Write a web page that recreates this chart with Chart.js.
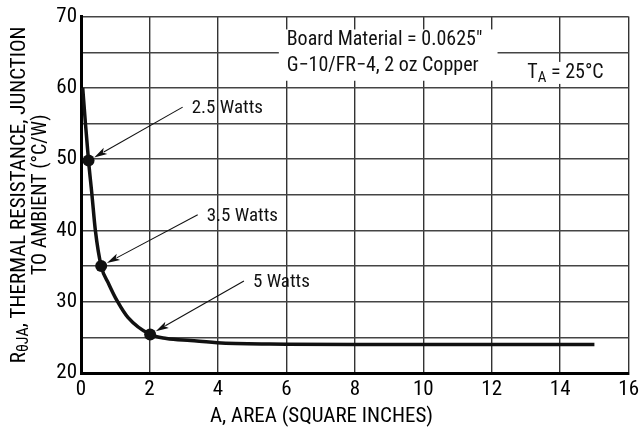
<!DOCTYPE html>
<html><head><meta charset="utf-8">
<script src="https://cdn.jsdelivr.net/npm/chart.js@4.4.1/dist/chart.umd.min.js"></script>
<style>html,body{margin:0;padding:0;background:#fff;} #wrap{width:643px;height:427px;position:relative;}</style>
</head><body><div id="wrap"><canvas id="c" width="643" height="427"></canvas></div>
<script>
// ---- data ----
const curveArea = [0.05, 0.13, 0.22, 0.32, 0.42, 0.59, 0.81, 1.07, 1.37, 2.02, 2.5, 3.2, 4.1, 6, 8, 10, 12, 15];
const curveRth  = [60, 55, 49.8, 45, 40, 35, 32.5, 30, 27.8, 25.4, 24.85, 24.55, 24.2, 24.05, 24, 24, 24, 24];
const markerArea = [0.22, 0.59, 2.02];
const markerRth  = [49.8, 35, 25.4];
const markerLabels = ['2.5 Watts', '3.5 Watts', '5 Watts'];
const xTickValues = [0, 2, 4, 6, 8, 10, 12, 14, 16];
const yTickValues = [20, 30, 40, 50, 60, 70];
const xTitle = 'A, AREA (SQUARE INCHES)';
const yTitleParts = ['R', 'θJA', ', THERMAL RESISTANCE, JUNCTION'];
const yTitleLine2 = 'TO AMBIENT (°C/W)';
const noteLines = ['Board Material = 0.0625″', 'G−10/FR−4, 2 oz Copper'];
const tempParts = ['T', 'A', ' = 25°C'];

// annotation anchors (data space) for label callouts
const calloutAnchors = [{x: 2.97, y: 57.3}, {x: 3.41, y: 42.2}, {x: 4.76, y: 32.9}];
const noteBox = {x0: 5.78, x1: 12.17, y0: 68.2, y1: 61.0, tx: 6.01, ty: [66.7, 63.1]};
const tempAnchor = {x: 13.04, y: 62.1};

const FONT = '"Roboto Condensed", "Liberation Sans", Arial, sans-serif';
const INK = '#000';

function arrow(ctx, x0, y0, x1, y1) {
  const ang = Math.atan2(y1 - y0, x1 - x0);
  const L = 13, W = 3.6;
  ctx.beginPath();
  ctx.moveTo(x0, y0);
  ctx.lineTo(x1 - Math.cos(ang) * (L - 2), y1 - Math.sin(ang) * (L - 2));
  ctx.lineWidth = 1.1;
  ctx.strokeStyle = '#111';
  ctx.stroke();
  ctx.beginPath();
  ctx.moveTo(x1, y1);
  ctx.lineTo(x1 - Math.cos(ang) * L - Math.sin(ang) * W, y1 - Math.sin(ang) * L + Math.cos(ang) * W);
  ctx.lineTo(x1 - Math.cos(ang) * (L - 3), y1 - Math.sin(ang) * (L - 3));
  ctx.lineTo(x1 - Math.cos(ang) * L + Math.sin(ang) * W, y1 - Math.sin(ang) * L - Math.cos(ang) * W);
  ctx.closePath();
  ctx.fillStyle = '#111';
  ctx.fill();
}

const annot = {
  id: 'annot',
  beforeDatasetsDraw(chart) {
    const {ctx, scales: {x, y}} = chart;
    ctx.save();
    ctx.fillStyle = '#fff';
    const bx0 = x.getPixelForValue(noteBox.x0), bx1 = x.getPixelForValue(noteBox.x1);
    const by0 = y.getPixelForValue(noteBox.y0), by1 = y.getPixelForValue(noteBox.y1);
    ctx.fillRect(bx0, by0, bx1 - bx0, by1 - by0);
    const tx = x.getPixelForValue(tempAnchor.x), ty = y.getPixelForValue(tempAnchor.y);
    ctx.fillRect(tx - 2, ty - 11, 84, 22);
    ctx.restore();
  },
  afterDatasetsDraw(chart) {
    const {ctx, scales: {x, y}} = chart;
    ctx.save();
    ctx.textBaseline = 'middle';
    ctx.textAlign = 'left';
    ctx.fillStyle = INK;
    ctx.font = '19px ' + FONT;
    markerLabels.forEach((lab, i) => {
      const ax = x.getPixelForValue(calloutAnchors[i].x), ay = y.getPixelForValue(calloutAnchors[i].y);
      const px = x.getPixelForValue(markerArea[i]), py = y.getPixelForValue(markerRth[i]);
      const d = Math.hypot(ax - px, ay - py);
      const off = 6.5;
      arrow(ctx, ax, ay, px + (ax - px) / d * off, py + (ay - py) / d * off);
      ctx.fillText(lab, ax + 9, ay + 1);
    });
    ctx.font = '20px ' + FONT;
    noteLines.forEach((t, i) => {
      ctx.fillText(t, x.getPixelForValue(noteBox.tx), y.getPixelForValue(noteBox.ty[i]));
    });
    let tx = x.getPixelForValue(tempAnchor.x), ty = y.getPixelForValue(tempAnchor.y);
    ctx.font = '20px ' + FONT;
    ctx.fillText(tempParts[0], tx, ty);
    tx += ctx.measureText(tempParts[0]).width;
    ctx.font = '15px ' + FONT;
    ctx.fillText(tempParts[1], tx, ty + 5);
    tx += ctx.measureText(tempParts[1]).width;
    ctx.font = '20px ' + FONT;
    ctx.fillText(tempParts[2], tx, ty);
    ctx.restore();
  },
  afterDraw(chart) {
    const {ctx, chartArea} = chart;
    ctx.save();
    ctx.fillStyle = INK;
    ctx.textBaseline = 'middle';
    ctx.textAlign = 'center';
    ctx.font = '21px ' + FONT;
    ctx.fillText(xTitle, chart.width / 2, 417);
    const cy = (chartArea.top + chartArea.bottom) / 2;
    ctx.translate(20, cy);
    ctx.rotate(-Math.PI / 2);
    const fMain = '21px ' + FONT, fSub = '16px ' + FONT;
    ctx.font = fMain; const w0 = ctx.measureText(yTitleParts[0]).width, w2 = ctx.measureText(yTitleParts[2]).width;
    ctx.font = fSub; const w1 = ctx.measureText(yTitleParts[1]).width;
    let sx = -(w0 + w1 + w2) / 2;
    ctx.textAlign = 'left';
    ctx.font = fMain; ctx.fillText(yTitleParts[0], sx, 0); sx += w0;
    ctx.font = fSub; ctx.fillText(yTitleParts[1], sx, 4); sx += w1;
    ctx.font = fMain; ctx.fillText(yTitleParts[2], sx, 0);
    ctx.textAlign = 'center';
    ctx.font = '20px ' + FONT;
    ctx.fillText(yTitleLine2, 0, 21);
    ctx.restore();
  }
};

new Chart(document.getElementById('c'), {
  type: 'line',
  data: {
    datasets: [
      {
        data: curveArea.map((a, i) => ({x: a, y: curveRth[i]})),
        borderColor: '#111', borderWidth: 3.5, pointRadius: 0,
        cubicInterpolationMode: 'monotone', fill: false
      },
      {
        data: markerArea.map((a, i) => ({x: a, y: markerRth[i]})),
        showLine: false, pointRadius: 6, pointBackgroundColor: '#111', pointBorderColor: '#111', pointBorderWidth: 0
      }
    ]
  },
  options: {
    responsive: false, animation: false,
    layout: {padding: {top: 13, right: 11, left: 0, bottom: 0}},
    plugins: {legend: {display: false}, tooltip: {enabled: false}},
    scales: {
      x: {
        type: 'linear', min: 0, max: 16,
        afterBuildTicks: s => { s.ticks = xTickValues.map(v => ({value: v})); },
        afterFit: s => { s.height = 54; },
        ticks: {font: {size: 21, family: FONT}, color: INK, padding: 4, maxRotation: 0},
        grid: {color: '#333', lineWidth: 1.4, drawTicks: false, tickLength: 0},
        border: {color: '#000', width: 3}
      },
      y: {
        min: 20, max: 70,
        afterBuildTicks: s => { const t = []; for (let v = 20; v <= 70; v += 5) t.push({value: v}); s.ticks = t; },
        afterFit: s => { s.width = 81; },
        ticks: {font: {size: 21, family: FONT}, color: INK, padding: 4,
          callback: v => yTickValues.includes(v) ? String(v) : ''},
        grid: {color: '#444', lineWidth: 1.4, drawTicks: false, tickLength: 0},
        border: {color: '#000', width: 3}
      }
    }
  },
  plugins: [annot]
});
</script>
</body></html>
